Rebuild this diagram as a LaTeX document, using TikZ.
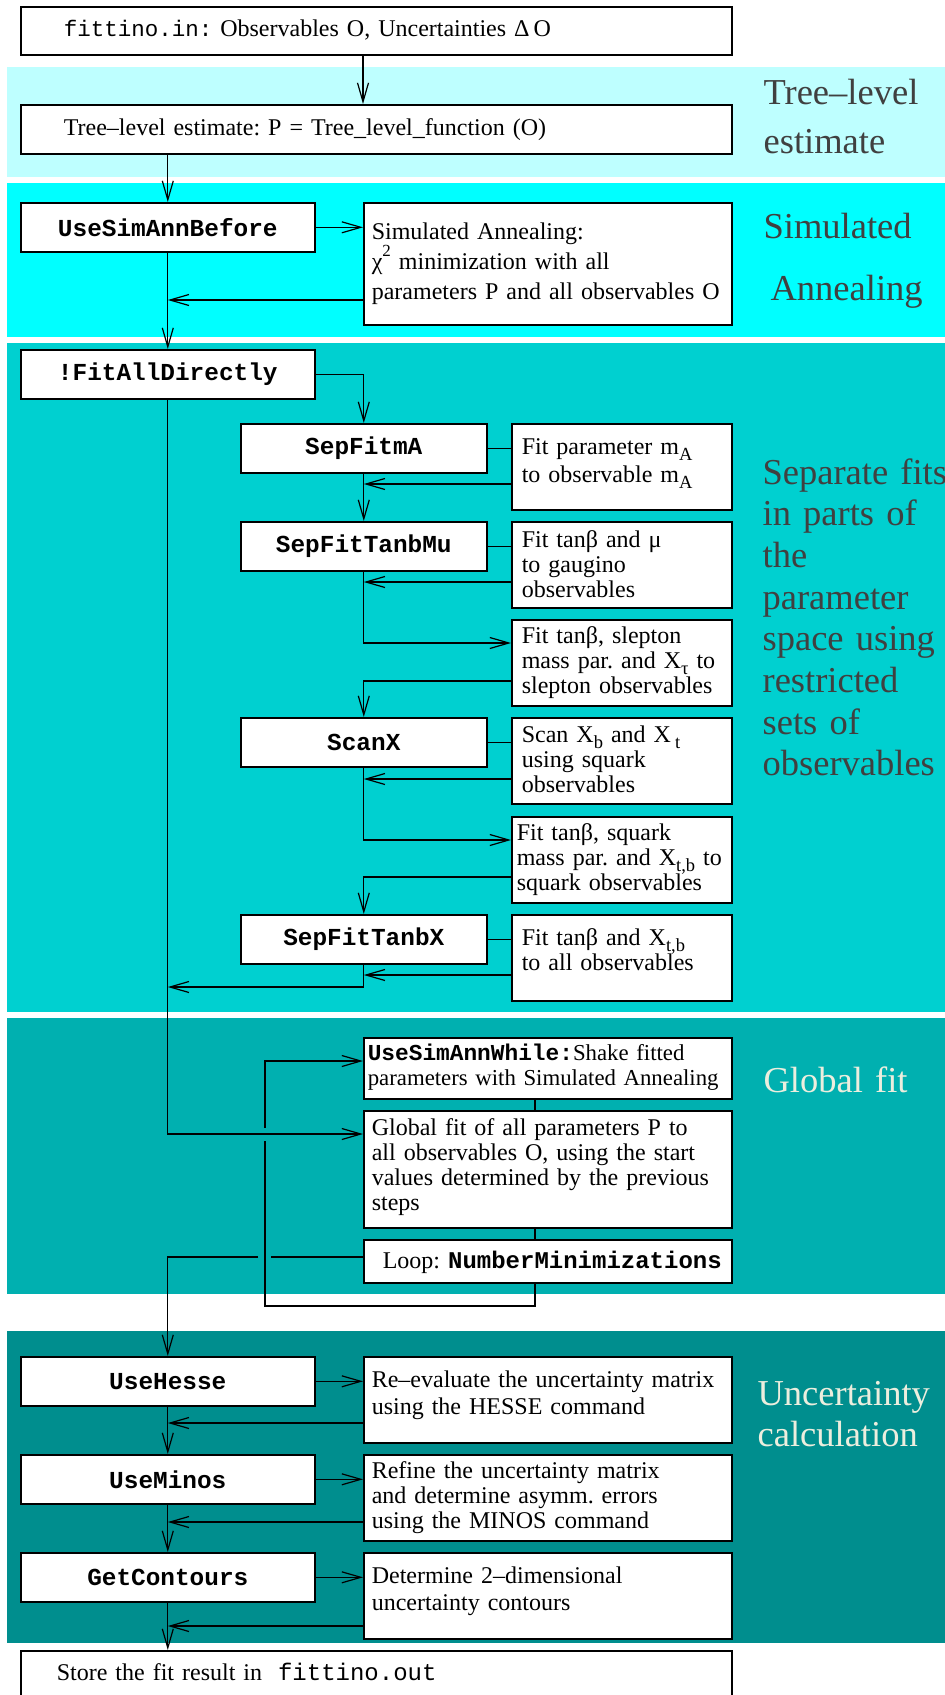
\documentclass[tikz,border=0pt]{standalone}
\usepackage{fontspec}
\setmainfont{Liberation Serif}
\setmonofont{Liberation Mono}
\usetikzlibrary{arrows.meta}
\frenchspacing

\definecolor{treecol}{RGB}{190,255,255}
\definecolor{annealcol}{RGB}{0,255,255}
\definecolor{sepcol}{RGB}{0,208,208}
\definecolor{globalcol}{RGB}{0,176,176}
\definecolor{uncertcol}{RGB}{0,142,142}
\definecolor{darklabel}{RGB}{64,64,64}
\definecolor{lightlabel}{RGB}{236,238,222}

\newcommand\idx[1]{\raisebox{-0.22em}{\fontsize{18.5}{18.5}\selectfont #1}}
\newcommand\supr[1]{\raisebox{0.55em}{\fontsize{17}{17}\selectfont #1}}
\newcommand\optname[1]{\textbf{\texttt{#1}}}

\begin{document}
\begin{tikzpicture}[x=1pt, y=-1pt, line width=1.2pt,
  box/.style={draw, fill=white, line width=1.6pt, anchor=north west, inner ysep=0pt, align=left,
    font=\fontsize{24}{25}\selectfont},
  prog/.style={draw, fill=white, line width=1.6pt, anchor=north west, inner sep=0pt,
    minimum width=#1, minimum height=49pt, font=\fontsize{24.4}{25}\selectfont\ttfamily\bfseries},
  prog/.default=294pt,
  wide/.style={box, inner xsep=43pt, text width=625pt},
  note/.style={box, inner xsep=8pt, text width=352pt},
  small/.style={box, inner xsep=10pt, text width=200pt},
  fix/.style 2 args={text height=#1pt, text depth=#2pt},
  body/.style 2 args={font=\fontsize{#1}{#2}\selectfont},
  arr/.style={-{Straight Barb[length=19pt,width=11pt]}},
  side/.style={anchor=base west, align=left, text width=185pt, inner sep=0pt,
    font=\fontsize{36.5}{#1}\selectfont}
]
\useasboundingbox (0,0) rectangle (945,1695);

%%%%% bands %%%%%
\fill[treecol] (7,67) rectangle (945,177);
\fill[annealcol] (7,183) rectangle (945,337);
\fill[sepcol] (7,343) rectangle (945,1012);
\fill[globalcol] (7,1018) rectangle (945,1294);
\fill[uncertcol] (7,1331) rectangle (945,1643);

\node[side=49, text=darklabel] (treeLbl) at (763,104) {Tree–level\\estimate};
\node[side=62, text=darklabel] (annealLbl) at (763,238) {Simulated\\\hspace*{7pt}Annealing};
\node[side=41.7, text=darklabel] (sepLbl) at (762,484) {Separate fits\\in parts of\\the\\parameter\\space using\\restricted\\sets of\\observables};
\node[side=42, text=lightlabel] (globalLbl) at (763,1092) {Global fit};
\node[side=41, text=lightlabel] (uncertLbl) at (757,1405) {Uncertainty\\calculation};

%%%%% boxes %%%%%
\node[wide, fix={30}{18}] (input) at (20,6) {\texttt{\fontsize{22.5}{25}\selectfont fittino.in:} Observables O, Uncertainties Δ\,O};
\node[wide, fix={31}{18}] (tree) at (20,104) {Tree–level estimate: P = Tree\_level\_function (O)};

\node[prog] (before) at (20,202) {UseSimAnnBefore};
\node[note, body={24}{30}, fix={37}{85}] (anneal) at (363,202) {Simulated Annealing:\\χ\supr{2} minimization with all\\parameters P and all observables O};

\node[prog] (fitall) at (20,349) {!FitAllDirectly};
\node[prog=246pt] (sepA) at (240,423) {SepFitmA};
\node[small, body={24}{28}, fix={31}{55}] (fitA) at (511,423) {Fit parameter m\idx{A}\\to observable m\idx{A}};
\node[prog=246pt] (sepMu) at (240,521) {SepFitTanbMu};
\node[small, fix={26}{60}] (fitMu) at (511,521) {Fit tanβ and μ\\to gaugino\\observables};
\node[small, fix={24}{62}] (fitSlep) at (511,619) {Fit tanβ, slepton\\mass par. and X\idx{τ} to\\slepton observables};
\node[prog=246pt] (scan) at (240,717) {ScanX};
\node[small, fix={25}{61}] (scanTxt) at (511,717) {Scan X\idx{b} and X\,\idx{t}\\using squark\\observables};
\node[small, inner xsep=5pt, text width=210pt, fix={24}{62}] (fitSq) at (511,816) {Fit tanβ, squark\\mass par. and X\idx{t,b} to\\squark observables};
\node[prog=246pt] (sepX) at (240,914) {SepFitTanbX};
\node[small, fix={31}{55}] (fitX) at (511,914) {Fit tanβ and X\idx{t,b}\\to all observables};

\node[note, inner xsep=4pt, text width=360pt, body={22.8}{25}, fix={23}{38}] (shake) at (363,1037) {\optname{UseSimAnnWhile:}Shake fitted\\parameters with Simulated Annealing};
\node[note, fix={25}{92}] (global) at (363,1110) {Global fit of all parameters P to\\all observables O, using the start\\values determined by the previous\\steps};
\node[note, inner xsep=0pt, text width=368pt, fix={29}{14}] (loop) at (363,1239) {\hspace*{19pt}Loop: \optname{NumberMinimizations}};

\node[prog] (hesse) at (20,1356) {UseHesse};
\node[note, body={24}{27}, fix={31}{55}] (hesseTxt) at (363,1356) {Re–evaluate the uncertainty matrix\\using the HESSE command};
\node[prog] (minos) at (20,1454) {UseMinos};
\node[note, fix={24}{62}] (minosTxt) at (363,1454) {Refine the uncertainty matrix\\and determine asymm. errors\\using the MINOS command};
\node[prog] (cont) at (20,1552) {GetContours};
\node[note, body={24}{27}, fix={31}{55}] (contTxt) at (363,1552) {Determine 2–dimensional\\uncertainty contours};

\node[wide, inner xsep=36pt, text width=639pt, fix={30}{30}] (store) at (20,1650) {Store the fit result in \ \texttt{fittino.out}};

%%%%% connectors %%%%%
\draw[arr] (input.south -| anneal.west) -- (tree.north -| anneal.west);
\draw[arr] (tree.south -| before.north) -- (before.north);
\draw[arr] (before.east) -- (before.east -| anneal.west);
\draw[arr] (anneal.west |- 0,300) -- (before.south |- 0,300);
\draw[arr] (before.south) -- (fitall.north);

\draw[arr] (fitall.east) -| (sepA.north);
\draw (sepA.east) -- (sepA.east -| fitA.west);
\draw[arr] (fitA.west |- 0,484) -- (sepA.south |- 0,484);
\draw[arr] (sepA.south) -- (sepMu.north);
\draw (sepMu.east) -- (sepMu.east -| fitMu.west);
\draw[arr] (fitMu.west |- 0,582) -- (sepMu.south |- 0,582);
\draw[arr] (sepMu.south) |- (fitSlep.west |- 0,643);
\draw[arr] (fitSlep.west |- 0,681) -| (scan.north);
\draw (scan.east) -- (scan.east -| scanTxt.west);
\draw[arr] (scanTxt.west |- 0,779) -- (scan.south |- 0,779);
\draw[arr] (scan.south) |- (fitSq.west |- 0,840);
\draw[arr] (fitSq.west |- 0,877) -| (sepX.north);
\draw (sepX.east) -- (sepX.east -| fitX.west);
\draw[arr] (fitX.west |- 0,975) -- (sepX.south |- 0,975);
\draw[arr] (sepX.south) |- (fitall.south |- 0,987);

\coordinate (link) at (535,1306);
\coordinate (back) at (265,1306);
\coordinate (gapT) at (265,1128);
\coordinate (gapB) at (265,1141);
\coordinate (gapL) at (258,1257);
\coordinate (gapR) at (271,1257);
\draw[arr] (fitall.south) |- (global.west |- 0,1134);
\draw (shake.south -| link) -- (global.north -| link);
\draw (global.south -| link) -- (loop.north -| link);
\draw (loop.south -| link) -- (link) -- (back) -- (gapB);
\draw[arr] (gapT) |- (shake.west |- 0,1061);
\draw (loop.west |- gapR) -- (gapR);
\draw[arr] (gapL) -| (hesse.north);

\draw[arr] (hesse.east) -- (hesse.east -| hesseTxt.west);
\draw[arr] (hesseTxt.west |- 0,1423) -- (hesse.south |- 0,1423);
\draw[arr] (hesse.south) -- (minos.north);
\draw[arr] (minos.east) -- (minos.east -| minosTxt.west);
\draw[arr] (minosTxt.west |- 0,1522) -- (minos.south |- 0,1522);
\draw[arr] (minos.south) -- (cont.north);
\draw[arr] (cont.east) -- (cont.east -| contTxt.west);
\draw[arr] (contTxt.west |- 0,1626) -- (cont.south |- 0,1626);
\draw[arr] (cont.south) -- (cont.south |- store.north);
\end{tikzpicture}
\end{document}
